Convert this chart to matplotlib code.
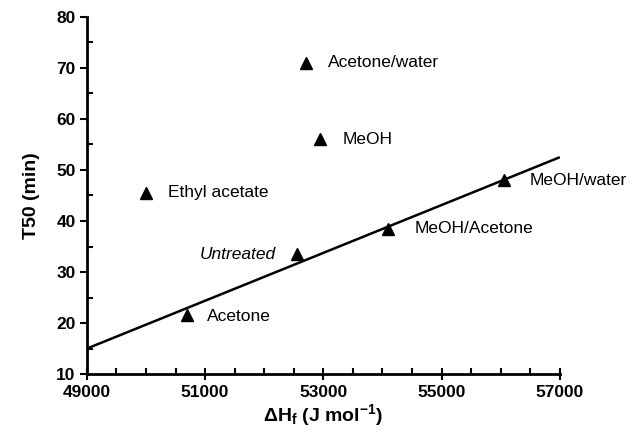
import numpy as np
import matplotlib
matplotlib.use('Agg')
import matplotlib.pyplot as plt
from matplotlib.ticker import MultipleLocator

plt.rcParams['font.family'] = ['Liberation Sans', 'DejaVu Sans']
plt.rcParams['mathtext.fontset'] = 'custom'
plt.rcParams['mathtext.rm'] = 'Liberation Sans:bold'
plt.rcParams['mathtext.default'] = 'regular'

# data
solvents = ['Ethyl acetate', 'Acetone', 'Untreated', 'Acetone/water',
            'MeOH', 'MeOH/Acetone', 'MeOH/water']
dHf = [50000, 50700, 52550, 52700, 52950, 54100, 56050]
t50 = [45.5, 21.5, 33.5, 71, 56, 38.5, 48]

fit_x = [49000, 57000]
fit_y = [15, 52.5]

xticks = [49000, 51000, 53000, 55000, 57000]

fig = plt.figure(figsize=(6.34, 4.32), dpi=100)
ax = fig.add_axes([0.137, 0.134, 0.746, 0.827])

ax.plot(fit_x, fit_y, color='black', lw=1.8, solid_capstyle='butt')
ax.plot(dHf, t50, '^', color='black', ms=9, ls='none')

# label offsets in points
offs = {'Ethyl acetate': (16, 0, 'left'), 'Acetone': (14, -1, 'left'),
        'Untreated': (-15, 0, 'right'), 'Acetone/water': (16, 0, 'left'),
        'MeOH': (16, 0, 'left'), 'MeOH/Acetone': (19, 0, 'left'),
        'MeOH/water': (19, 0, 'left')}
for name, x, y in zip(solvents, dHf, t50):
    dx, dy, ha = offs[name]
    style = 'italic' if name == 'Untreated' else 'normal'
    ax.annotate(name, (x, y), xytext=(dx, dy), textcoords='offset points',
                ha=ha, va='center', fontsize=12.5, style=style)

ax.set_xlim(49000, 57000)
ax.set_ylim(10, 80)
ax.set_xticks(xticks)
ax.xaxis.set_minor_locator(MultipleLocator(500))
ax.yaxis.set_major_locator(MultipleLocator(10))
ax.yaxis.set_minor_locator(MultipleLocator(5))

for s in ['top', 'right']:
    ax.spines[s].set_visible(False)
for s in ['left', 'bottom']:
    ax.spines[s].set_linewidth(2)

ax.tick_params(axis='x', which='major', direction='inout', length=8, width=1.5,
               labelsize=12.5, pad=4)
ax.tick_params(axis='x', which='minor', direction='in', length=4, width=1.5)
ax.tick_params(axis='y', which='major', direction='out', length=5, width=1.5,
               labelsize=12.5, pad=3)
ax.tick_params(axis='y', which='minor', direction='in', length=4, width=1.5)
for lab in ax.get_xticklabels() + ax.get_yticklabels():
    lab.set_fontweight('bold')

ax.set_xlabel(r'$\Delta$H$_\mathrm{f}$ (J mol$^{-1}$)', fontsize=14,
              fontweight='bold', labelpad=1)
ax.set_ylabel('T50 (min)', fontsize=14, fontweight='bold', labelpad=12)

plt.savefig('out.png', dpi=100)
plt.close(fig)
